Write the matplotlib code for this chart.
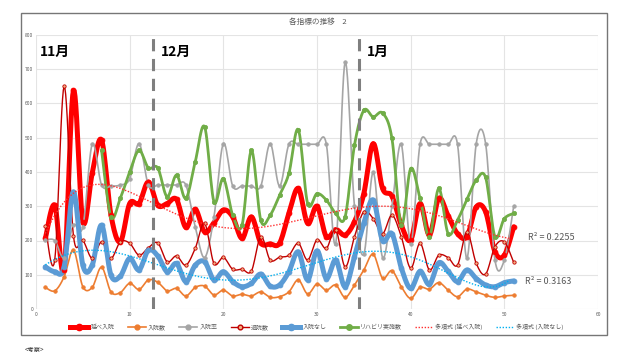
import numpy as np
import matplotlib
matplotlib.use("Agg")
import matplotlib.pyplot as plt
from matplotlib.patches import Rectangle

plt.rcParams['font.family'] = ['Noto Sans CJK JP', 'DejaVu Sans']

days = list(range(1, 52))
nobe = [206,303,115,638,255,396,493,275,196,308,308,371,303,308,320,238,291,225,252,289,
        269,206,269,193,190,192,279,352,250,300,211,232,216,255,337,483,352,330,245,201,
        308,216,323,272,220,211,298,284,167,157,240]
nyuin = [63,53,94,172,65,63,122,50,48,75,57,85,78,53,60,38,63,67,41,55,
         38,43,38,50,34,36,50,85,44,73,55,70,34,70,114,160,90,112,65,31,
         63,58,77,55,36,58,50,40,34,38,40]
ritsu = [201,200,150,245,240,481,362,359,362,380,483,362,362,362,362,362,240,150,269,483,
         359,359,359,359,483,359,481,481,481,481,481,190,721,300,160,400,150,300,481,190,
         481,481,481,481,481,148,483,483,143,143,300]
taiin = [242,143,650,213,201,148,196,148,196,192,157,179,193,138,155,128,177,250,133,151,
         116,116,111,211,143,151,157,192,143,202,177,232,123,211,284,264,220,274,211,119,
         192,114,157,150,128,225,133,102,182,196,136]
nashi = [123,109,123,342,128,128,245,99,96,148,114,172,155,109,133,80,128,138,85,109,
         80,65,75,102,67,70,109,167,85,170,89,143,65,153,250,318,200,220,120,60,
         110,72,135,110,80,114,89,70,65,77,82]
reha_days = list(range(7, 52))
reha = [463,270,323,400,463,412,412,328,391,323,430,532,313,381,274,245,463,259,274,332,
        396,524,308,337,318,279,269,478,580,561,572,498,245,410,323,211,352,220,259,320,
        376,384,211,264,279]

names = ["延べ入院", "入院数", "入院率", "退院数", "入院なし", "リハビリ実施数"]
trend_names = ["多項式 (延べ入院)", "多項式 (入院なし)"]
r2_labels = ["R² = 0.2255", "R² = 0.3163"]
month_labels = ["11月", "12月", "1月"]
month_bounds = [12.5, 34.5]


def smooth(x, y, n=12):
    x = np.asarray(x, float); y = np.asarray(y, float)
    px = np.concatenate([[x[0]], x, [x[-1]]])
    py = np.concatenate([[y[0]], y, [y[-1]]])
    xs, ys = [], []
    for i in range(1, len(px) - 2):
        p0, p1, p2, p3 = [np.array([px[j], py[j]]) for j in (i - 1, i, i + 1, i + 2)]
        c1 = p1 + (p2 - p0) / 6.0
        c2 = p2 - (p3 - p1) / 6.0
        t = np.linspace(0, 1, n, endpoint=(i == len(px) - 3))[:, None]
        pts = (1 - t) ** 3 * p1 + 3 * (1 - t) ** 2 * t * c1 + 3 * (1 - t) * t ** 2 * c2 + t ** 3 * p2
        xs.append(pts[:, 0]); ys.append(pts[:, 1])
    return np.concatenate(xs), np.concatenate(ys)


fig = plt.figure(figsize=(6.3, 3.54), dpi=100)
fig.patches.append(Rectangle((21 / 630, 1 - 335 / 354), 586 / 630, 322 / 354,
                             transform=fig.transFigure, fill=False,
                             edgecolor='#767676', linewidth=1.0))
ax = fig.add_axes([36 / 630, 1 - 309 / 354, 562 / 630, 274 / 354])

series = [
    (days, nobe, '#FF0000', 3.6, 3.5, '#FF0000', '#FF0000'),
    (days, nyuin, '#ED7D31', 1.2, 2.5, '#ED7D31', '#ED7D31'),
    (days, ritsu, '#A5A5A5', 1.2, 2.5, '#A5A5A5', '#A5A5A5'),
    (days, taiin, '#C00000', 1.0, 2.4, '#F4B183', '#C00000'),
    (days, nashi, '#5B9BD5', 3.6, 3.5, '#5B9BD5', '#5B9BD5'),
    (reha_days, reha, '#70AD47', 2.0, 3.0, '#70AD47', '#70AD47'),
]
handles = []
for (x, y, c, lw, ms, mfc, mec), nm in zip(series, names):
    sx, sy = smooth(x, y)
    ax.plot(sx, sy, color=c, lw=lw, solid_capstyle='round', zorder=2)
    ax.plot(x, y, ls='none', marker='o', ms=ms, mfc=mfc, mec=mec, mew=0.6, zorder=3)
    h, = ax.plot([], [], color=c, lw=lw, marker='o', ms=ms + 1, mfc=mfc, mec=mec, label=nm)
    handles.append(h)

xa = np.linspace(1, 50.5, 300)
for yv, c, nm in [(nobe, '#FF3030', trend_names[0]), (nashi, '#00B0F0', trend_names[1])]:
    coef = np.polyfit(days, yv, 6)
    ax.plot(xa, np.polyval(coef, xa), color=c, lw=1.0, ls=(0, (1, 1.2)), zorder=4)
    h, = ax.plot([], [], color=c, lw=1.0, ls=(0, (1, 1.2)), label=nm)
    handles.append(h)

for xb in month_bounds:
    ax.axvline(xb, color='#7F7F7F', lw=2.2, ls=(0, (4, 2.5)), zorder=5)
for xm, lab in zip([0.4, 13.3, 35.3], month_labels):
    ax.text(xm, 770, lab, fontsize=10, fontweight='bold', color='black',
            va='top', ha='left', zorder=6)

ax.text(52.5, 210, r2_labels[0], fontsize=6.5, color='#595959', va='center')
ax.text(52.2, 80, r2_labels[1], fontsize=6.5, color='#595959', va='center')

ax.set_xlim(0, 60)
ax.set_ylim(0, 800)
ax.set_xticks(range(0, 61, 10))
ax.set_yticks(range(0, 801, 100))
ax.tick_params(labelsize=3.5, colors='#595959', length=0, pad=2)
ax.grid(True, color='#E4E4E4', lw=0.8)
ax.set_axisbelow(True)
for s in ax.spines.values():
    s.set_visible(False)

fig.text(318 / 630, 1 - 22 / 354, "各指標の推移　2", fontsize=5.5, color='#595959',
         ha='center', va='center')

leg = ax.legend(handles=handles, loc='center', bbox_to_anchor=(0.5, -0.065), ncol=8,
                fontsize=4.3, frameon=False, handlelength=3.0, columnspacing=2.2,
                handletextpad=0.4, labelcolor='#595959')

fig.text(25 / 630, 1 - 350 / 354, "<考察>", fontsize=4.5, color='#333333',
         ha='left', va='center')

fig.savefig("out.png", dpi=100)
